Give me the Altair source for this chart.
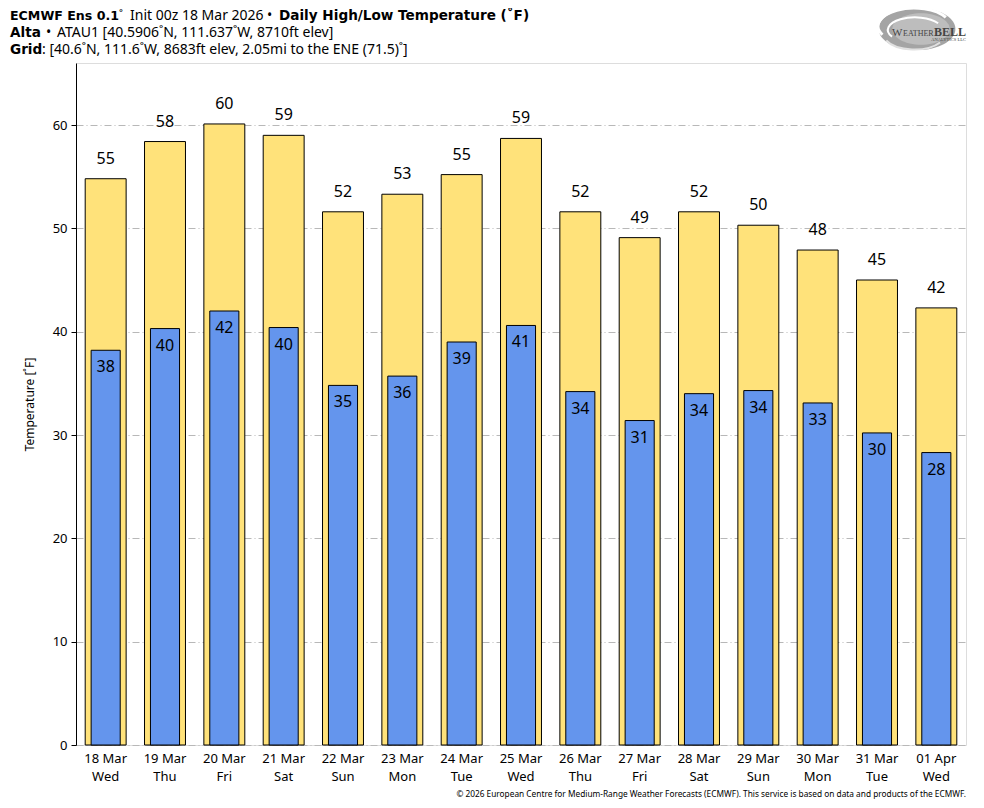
import altair as alt
import pandas as pd

days = ["18 Mar", "19 Mar", "20 Mar", "21 Mar", "22 Mar", "23 Mar", "24 Mar", "25 Mar",
        "26 Mar", "27 Mar", "28 Mar", "29 Mar", "30 Mar", "31 Mar", "01 Apr"]
weekdays = ["Wed", "Thu", "Fri", "Sat", "Sun", "Mon", "Tue", "Wed",
            "Thu", "Fri", "Sat", "Sun", "Mon", "Tue", "Wed"]
highs = [54.8, 58.4, 60.1, 59.0, 51.6, 53.3, 55.2, 58.7, 51.6, 49.1, 51.6, 50.3, 47.9, 45.0, 42.3]
lows = [38.2, 40.3, 42.0, 40.4, 34.8, 35.7, 39.0, 40.6, 34.2, 31.4, 34.0, 34.3, 33.1, 30.2, 28.3]
y_ticks = [0, 10, 20, 30, 40, 50, 60]

FONT = "Noto Sans"
BFONT = "DejaVu Sans"
df = pd.DataFrame({
    "day": [f"{d}|{w}" for d, w in zip(days, weekdays)],
    "high": highs,
    "low": lows,
})

x = alt.X("day:N", sort=None, title=None,
          scale=alt.Scale(paddingInner=0, paddingOuter=0),
          axis=alt.Axis(labelExpr="split(datum.label, '|')", labelAngle=0, ticks=False,
                        labelFont=FONT, labelFontSize=13, labelColor="black",
                        labelPadding=7, labelLineHeight=18, domain=False, grid=False))
yscale = alt.Scale(domain=[0, 66], nice=False)

base = alt.Chart(df)

high_bar = base.mark_bar(width=alt.RelativeBandSize(0.69), color="#FFE27A",
                         stroke="black", strokeWidth=1).encode(
    x=x,
    y=alt.Y("high:Q", scale=yscale, title="Temperature [˚F]",
            axis=alt.Axis(values=y_ticks, labelFont=FONT, labelFontSize=13, labelColor="black",
                          titleFont=FONT, titleFontSize=12, titleFontWeight="normal",
                          titleColor="black", titlePadding=16,
                          tickColor="black", tickSize=5, domainColor="black",
                          labelPadding=4,
                          grid=True, gridColor="#b8b8b8", gridDash=[7, 3, 1, 3], gridWidth=1)),
)
low_bar = base.mark_bar(width=alt.RelativeBandSize(0.49), color="#6495ED",
                        stroke="black", strokeWidth=1).encode(
    x=x, y=alt.Y("low:Q", scale=yscale))

high_txt = base.mark_text(font=FONT, fontSize=16, dy=-15, baseline="alphabetic",
                          color="black").encode(
    x=x, y=alt.Y("high:Q", scale=yscale), text=alt.Text("high:Q", format=".0f"))
low_txt = base.mark_text(font=FONT, fontSize=16, dy=22, baseline="alphabetic",
                         color="black").encode(
    x=x, y=alt.Y("low:Q", scale=yscale), text=alt.Text("low:Q", format=".0f"))

one = pd.DataFrame({"a": [0]})
OX, OY = 76, 63  # plot origin in page coordinates


def txt(s, px, py, bold=False, size=14, align="left", color="black", font=None):
    f = font or (BFONT if bold else FONT)
    return alt.Chart(one).mark_text(
        text=s, font=f, fontSize=size, fontWeight="bold" if bold else "normal",
        align=align, baseline="alphabetic", color=color).encode(
        x=alt.value(px - OX), y=alt.value(py - OY))


header = [
    txt("ECMWF Ens 0.1", 10, 20, bold=True, size=12.6),
    txt("˚", 119, 20, size=13),
    txt("Init 00z 18 Mar 2026", 130, 20),
    txt("•", 267, 20),
    txt("Daily High/Low Temperature (˚F)", 279, 20, bold=True, size=13.6),
    txt("Alta", 10, 37, bold=True, size=13.6),
    txt("•", 46, 37),
    txt("ATAU1 [40.5906˚N, 111.637˚W, 8710ft elev]", 57, 37),
    txt("Grid", 10, 54, bold=True, size=13.6),
    txt(": [40.6˚N, 111.6˚W, 8683ft elev, 2.05mi to the ENE (71.5)˚]", 42, 54),
    txt("© 2026 European Centre for Medium-Range Weather Forecasts (ECMWF). This service is based on data and products of the ECMWF.",
        966, 797, size=8.3, align="right"),
]

# WeatherBELL logo (decorative)
ell = "M-1,0 A1,0.55 0 1,1 1,0 A1,0.55 0 1,1 -1,0 Z"
arc1 = "M-0.9,0.15 A0.9,0.45 0 0,1 0.75,-0.3"
arc2 = "M-0.65,0.2 A0.65,0.3 0 0,1 0.55,-0.15"
arc3 = "M-0.8,0.3 A0.8,0.4 0 0,0 0.6,0.35"


def sym(path, px, py, size, fill=None, stroke=None, sw=1, opacity=1):
    kw = dict(shape=path, size=size, strokeWidth=sw, opacity=opacity)
    kw["filled"] = fill is not None
    if fill is not None:
        kw["fill"] = fill
    if stroke is not None:
        kw["stroke"] = stroke
    return alt.Chart(one).mark_point(**kw).encode(x=alt.value(px - OX), y=alt.value(py - OY))


logo = [
    sym(ell, 917, 29, 5900, fill="#9a9a9a", opacity=0.9),
    sym(ell, 921, 29, 3300, fill="#bdbdbd"),
    sym(arc1, 917, 29, 5900, stroke="white", sw=3),
    sym(arc2, 917, 29, 5900, stroke="white", sw=2),
    sym(arc3, 917, 29, 5900, stroke="#e0e0e0", sw=2),
    txt("W", 892, 36, size=11, color="#444444", font="Liberation Serif"),
    txt("EATHER", 903, 36, size=8, color="#444444", font="Liberation Serif"),
    txt("BELL", 934, 36, size=12, bold=True, color="#444444", font="Liberation Serif"),
    txt("ANALYTICS LLC", 966, 41, size=4.5, align="right", color="#444444", font="Liberation Serif"),
]

chart = alt.layer(high_bar, low_bar, high_txt, low_txt, *header, *logo).properties(
    width=890, height=682,
    autosize=alt.AutoSizeParams(type="none"),
    padding={"left": 68, "top": 55, "right": 10, "bottom": 55},
).configure_view(fill="#f4f4f4", stroke="black", strokeWidth=1).configure(
    font=FONT, background="white")

chart.save("out.html", embed_options={"renderer": "svg", "actions": False})
